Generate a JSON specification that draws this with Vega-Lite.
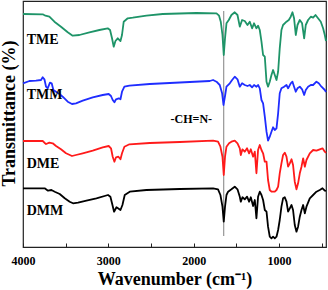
{
  "$schema": "https://vega.github.io/schema/vega-lite/v6.json",
  "width": 303,
  "height": 246,
  "autosize": {"type": "none"},
  "padding": {"left": 23, "top": 1, "right": 2, "bottom": 43},
  "config": {
    "view": {"stroke": "#222", "strokeWidth": 1.2},
    "font": "Liberation Serif"
  },
  "datasets": {
    "spectra": [
      {"s":"TME","wn":4000,"T":233},{"s":"TME","wn":3769,"T":232.7},{"s":"TME","wn":3737,"T":231.3},{"s":"TME","wn":3691,"T":230.3},{"s":"TME","wn":3632,"T":225.3},{"s":"TME","wn":3555,"T":220.3},{"s":"TME","wn":3476,"T":214.7},{"s":"TME","wn":3418,"T":211.3},{"s":"TME","wn":3339,"T":212},{"s":"TME","wn":3222,"T":214.7},{"s":"TME","wn":3105,"T":217},{"s":"TME","wn":3007,"T":218.7},{"s":"TME","wn":2980,"T":217},{"s":"TME","wn":2957,"T":208.7},{"s":"TME","wn":2937,"T":200.3},{"s":"TME","wn":2917,"T":206},{"s":"TME","wn":2890,"T":208.7},{"s":"TME","wn":2858,"T":206},{"s":"TME","wn":2840,"T":212},{"s":"TME","wn":2820,"T":225.3},{"s":"TME","wn":2773,"T":228.7},{"s":"TME","wn":2714,"T":229.3},{"s":"TME","wn":2554,"T":231.3},{"s":"TME","wn":2363,"T":233},{"s":"TME","wn":1968,"T":234},{"s":"TME","wn":1733,"T":233.7},{"s":"TME","wn":1703,"T":231.3},{"s":"TME","wn":1683,"T":225.3},{"s":"TME","wn":1663,"T":212},{"s":"TME","wn":1648,"T":192},{"s":"TME","wn":1633,"T":208.7},{"s":"TME","wn":1616,"T":223.7},{"s":"TME","wn":1589,"T":227},{"s":"TME","wn":1558,"T":232},{"s":"TME","wn":1519,"T":234.7},{"s":"TME","wn":1487,"T":232},{"s":"TME","wn":1460,"T":220.3},{"s":"TME","wn":1433,"T":227},{"s":"TME","wn":1402,"T":226},{"s":"TME","wn":1370,"T":222},{"s":"TME","wn":1343,"T":225.3},{"s":"TME","wn":1316,"T":218.7},{"s":"TME","wn":1293,"T":223.7},{"s":"TME","wn":1265,"T":218.7},{"s":"TME","wn":1246,"T":221.3},{"s":"TME","wn":1226,"T":217},{"s":"TME","wn":1206,"T":205.3},{"s":"TME","wn":1187,"T":192},{"s":"TME","wn":1167,"T":190.3},{"s":"TME","wn":1147,"T":165.3},{"s":"TME","wn":1129,"T":160.3},{"s":"TME","wn":1109,"T":165.3},{"s":"TME","wn":1089,"T":172},{"s":"TME","wn":1070,"T":177},{"s":"TME","wn":1050,"T":172},{"s":"TME","wn":1030,"T":167},{"s":"TME","wn":1011,"T":175.3},{"s":"TME","wn":992,"T":198.7},{"s":"TME","wn":972,"T":217},{"s":"TME","wn":953,"T":222},{"s":"TME","wn":913,"T":225.3},{"s":"TME","wn":886,"T":227},{"s":"TME","wn":863,"T":230.3},{"s":"TME","wn":843,"T":234.7},{"s":"TME","wn":824,"T":228.7},{"s":"TME","wn":804,"T":212},{"s":"TME","wn":784,"T":222},{"s":"TME","wn":757,"T":227},{"s":"TME","wn":730,"T":223.7},{"s":"TME","wn":706,"T":208.7},{"s":"TME","wn":687,"T":222},{"s":"TME","wn":660,"T":227},{"s":"TME","wn":628,"T":230.3},{"s":"TME","wn":601,"T":229.3},{"s":"TME","wn":573,"T":232},{"s":"TME","wn":543,"T":228.7},{"s":"TME","wn":511,"T":225.3},{"s":"TME","wn":484,"T":218.7},{"s":"TME","wn":464,"T":212},{"s":"TME","wn":450,"T":206},

      {"s":"TMM","wn":4000,"T":163.7},{"s":"TMM","wn":3925,"T":166},{"s":"TMM","wn":3848,"T":166.3},{"s":"TMM","wn":3789,"T":167},{"s":"TMM","wn":3769,"T":169.7},{"s":"TMM","wn":3749,"T":167.7},{"s":"TMM","wn":3730,"T":160.3},{"s":"TMM","wn":3711,"T":158.7},{"s":"TMM","wn":3684,"T":164.3},{"s":"TMM","wn":3664,"T":163.7},{"s":"TMM","wn":3644,"T":157},{"s":"TMM","wn":3613,"T":155.3},{"s":"TMM","wn":3573,"T":153},{"s":"TMM","wn":3535,"T":150.3},{"s":"TMM","wn":3476,"T":145.3},{"s":"TMM","wn":3426,"T":143},{"s":"TMM","wn":3379,"T":143.7},{"s":"TMM","wn":3300,"T":146.3},{"s":"TMM","wn":3183,"T":149.7},{"s":"TMM","wn":3066,"T":152},{"s":"TMM","wn":2996,"T":153},{"s":"TMM","wn":2969,"T":151},{"s":"TMM","wn":2949,"T":147},{"s":"TMM","wn":2929,"T":144.7},{"s":"TMM","wn":2910,"T":147.7},{"s":"TMM","wn":2878,"T":148.7},{"s":"TMM","wn":2858,"T":147.7},{"s":"TMM","wn":2840,"T":155.3},{"s":"TMM","wn":2812,"T":160.3},{"s":"TMM","wn":2753,"T":161.3},{"s":"TMM","wn":2515,"T":163},{"s":"TMM","wn":2163,"T":164.5},{"s":"TMM","wn":1812,"T":166},{"s":"TMM","wn":1773,"T":167},{"s":"TMM","wn":1733,"T":165.3},{"s":"TMM","wn":1695,"T":162},{"s":"TMM","wn":1667,"T":153.7},{"s":"TMM","wn":1651,"T":142},{"s":"TMM","wn":1633,"T":151},{"s":"TMM","wn":1616,"T":160.3},{"s":"TMM","wn":1577,"T":163.7},{"s":"TMM","wn":1550,"T":167},{"s":"TMM","wn":1519,"T":170.3},{"s":"TMM","wn":1487,"T":167.7},{"s":"TMM","wn":1460,"T":160.3},{"s":"TMM","wn":1433,"T":163.7},{"s":"TMM","wn":1402,"T":162},{"s":"TMM","wn":1370,"T":161},{"s":"TMM","wn":1343,"T":162},{"s":"TMM","wn":1316,"T":159.7},{"s":"TMM","wn":1293,"T":162},{"s":"TMM","wn":1265,"T":160.3},{"s":"TMM","wn":1246,"T":162},{"s":"TMM","wn":1226,"T":158.7},{"s":"TMM","wn":1206,"T":147},{"s":"TMM","wn":1187,"T":143.7},{"s":"TMM","wn":1167,"T":130.3},{"s":"TMM","wn":1147,"T":115.3},{"s":"TMM","wn":1129,"T":106.3},{"s":"TMM","wn":1109,"T":110.3},{"s":"TMM","wn":1089,"T":115.3},{"s":"TMM","wn":1070,"T":119.7},{"s":"TMM","wn":1050,"T":117},{"s":"TMM","wn":1030,"T":118.7},{"s":"TMM","wn":1011,"T":133.7},{"s":"TMM","wn":992,"T":153.7},{"s":"TMM","wn":972,"T":158.7},{"s":"TMM","wn":941,"T":160.3},{"s":"TMM","wn":913,"T":162},{"s":"TMM","wn":894,"T":158.7},{"s":"TMM","wn":863,"T":163.7},{"s":"TMM","wn":843,"T":165.3},{"s":"TMM","wn":824,"T":160.3},{"s":"TMM","wn":804,"T":155.3},{"s":"TMM","wn":784,"T":158.7},{"s":"TMM","wn":757,"T":160.3},{"s":"TMM","wn":730,"T":157.7},{"s":"TMM","wn":706,"T":152},{"s":"TMM","wn":687,"T":157},{"s":"TMM","wn":660,"T":160.3},{"s":"TMM","wn":628,"T":162},{"s":"TMM","wn":601,"T":162},{"s":"TMM","wn":562,"T":165.3},{"s":"TMM","wn":535,"T":163.7},{"s":"TMM","wn":503,"T":160.3},{"s":"TMM","wn":464,"T":157},{"s":"TMM","wn":450,"T":155},

      {"s":"DME","wn":4000,"T":106},{"s":"DME","wn":3848,"T":106},{"s":"DME","wn":3769,"T":106},{"s":"DME","wn":3749,"T":104.3},{"s":"DME","wn":3730,"T":103},{"s":"DME","wn":3691,"T":104.3},{"s":"DME","wn":3652,"T":103.7},{"s":"DME","wn":3613,"T":101},{"s":"DME","wn":3555,"T":97.7},{"s":"DME","wn":3496,"T":93.7},{"s":"DME","wn":3426,"T":91},{"s":"DME","wn":3379,"T":92},{"s":"DME","wn":3300,"T":93.7},{"s":"DME","wn":3183,"T":96.3},{"s":"DME","wn":3066,"T":99.7},{"s":"DME","wn":2996,"T":101},{"s":"DME","wn":2969,"T":98.7},{"s":"DME","wn":2949,"T":90.3},{"s":"DME","wn":2929,"T":85.3},{"s":"DME","wn":2910,"T":89.7},{"s":"DME","wn":2882,"T":90.3},{"s":"DME","wn":2858,"T":87.7},{"s":"DME","wn":2840,"T":93.7},{"s":"DME","wn":2812,"T":100.3},{"s":"DME","wn":2753,"T":102.7},{"s":"DME","wn":2515,"T":104},{"s":"DME","wn":2163,"T":105},{"s":"DME","wn":1773,"T":106.3},{"s":"DME","wn":1715,"T":105.3},{"s":"DME","wn":1687,"T":100.3},{"s":"DME","wn":1663,"T":90.3},{"s":"DME","wn":1648,"T":72},{"s":"DME","wn":1633,"T":90.3},{"s":"DME","wn":1616,"T":100.3},{"s":"DME","wn":1586,"T":103.7},{"s":"DME","wn":1558,"T":105.3},{"s":"DME","wn":1519,"T":106.3},{"s":"DME","wn":1487,"T":103.7},{"s":"DME","wn":1460,"T":98.7},{"s":"DME","wn":1448,"T":92},{"s":"DME","wn":1429,"T":97.7},{"s":"DME","wn":1402,"T":95.3},{"s":"DME","wn":1375,"T":98.7},{"s":"DME","wn":1351,"T":93.7},{"s":"DME","wn":1331,"T":97.7},{"s":"DME","wn":1304,"T":90.3},{"s":"DME","wn":1284,"T":95.3},{"s":"DME","wn":1265,"T":73.7},{"s":"DME","wn":1246,"T":97},{"s":"DME","wn":1226,"T":102},{"s":"DME","wn":1206,"T":97},{"s":"DME","wn":1187,"T":93.7},{"s":"DME","wn":1167,"T":85.3},{"s":"DME","wn":1147,"T":85.3},{"s":"DME","wn":1129,"T":67},{"s":"DME","wn":1109,"T":57},{"s":"DME","wn":1089,"T":55.3},{"s":"DME","wn":1050,"T":55.3},{"s":"DME","wn":1030,"T":57},{"s":"DME","wn":1011,"T":60.3},{"s":"DME","wn":992,"T":73.7},{"s":"DME","wn":972,"T":83.7},{"s":"DME","wn":953,"T":92},{"s":"DME","wn":933,"T":94.3},{"s":"DME","wn":913,"T":90.3},{"s":"DME","wn":894,"T":80.3},{"s":"DME","wn":874,"T":83.7},{"s":"DME","wn":854,"T":87.7},{"s":"DME","wn":836,"T":82},{"s":"DME","wn":816,"T":65.3},{"s":"DME","wn":796,"T":57.7},{"s":"DME","wn":777,"T":63.7},{"s":"DME","wn":757,"T":73.7},{"s":"DME","wn":737,"T":80.3},{"s":"DME","wn":718,"T":88.7},{"s":"DME","wn":698,"T":80.3},{"s":"DME","wn":679,"T":87},{"s":"DME","wn":640,"T":93.7},{"s":"DME","wn":601,"T":97},{"s":"DME","wn":562,"T":96.3},{"s":"DME","wn":523,"T":97.7},{"s":"DME","wn":491,"T":98.7},{"s":"DME","wn":464,"T":95.3},{"s":"DME","wn":450,"T":94},

      {"s":"DMM","wn":4000,"T":58.7},{"s":"DMM","wn":3746,"T":58.7},{"s":"DMM","wn":3707,"T":56.3},{"s":"DMM","wn":3667,"T":57},{"s":"DMM","wn":3628,"T":55.3},{"s":"DMM","wn":3570,"T":53},{"s":"DMM","wn":3511,"T":48.7},{"s":"DMM","wn":3453,"T":45.3},{"s":"DMM","wn":3414,"T":43.7},{"s":"DMM","wn":3355,"T":44.3},{"s":"DMM","wn":3257,"T":46.3},{"s":"DMM","wn":3140,"T":48.7},{"s":"DMM","wn":3004,"T":52},{"s":"DMM","wn":2976,"T":50.3},{"s":"DMM","wn":2952,"T":42},{"s":"DMM","wn":2933,"T":35.3},{"s":"DMM","wn":2905,"T":39.7},{"s":"DMM","wn":2887,"T":38.7},{"s":"DMM","wn":2858,"T":37},{"s":"DMM","wn":2835,"T":42},{"s":"DMM","wn":2808,"T":52},{"s":"DMM","wn":2749,"T":55.3},{"s":"DMM","wn":2554,"T":57},{"s":"DMM","wn":2163,"T":58},{"s":"DMM","wn":1773,"T":58.7},{"s":"DMM","wn":1715,"T":57.7},{"s":"DMM","wn":1687,"T":52},{"s":"DMM","wn":1663,"T":40.3},{"s":"DMM","wn":1648,"T":25.3},{"s":"DMM","wn":1633,"T":40.3},{"s":"DMM","wn":1616,"T":52},{"s":"DMM","wn":1597,"T":55.3},{"s":"DMM","wn":1558,"T":57.7},{"s":"DMM","wn":1519,"T":60.3},{"s":"DMM","wn":1487,"T":57.7},{"s":"DMM","wn":1460,"T":50.3},{"s":"DMM","wn":1448,"T":45.3},{"s":"DMM","wn":1429,"T":49.7},{"s":"DMM","wn":1402,"T":47.7},{"s":"DMM","wn":1375,"T":50.3},{"s":"DMM","wn":1351,"T":45.3},{"s":"DMM","wn":1331,"T":49.7},{"s":"DMM","wn":1304,"T":41},{"s":"DMM","wn":1284,"T":47},{"s":"DMM","wn":1265,"T":28.7},{"s":"DMM","wn":1246,"T":50.3},{"s":"DMM","wn":1226,"T":55.3},{"s":"DMM","wn":1206,"T":52},{"s":"DMM","wn":1187,"T":47},{"s":"DMM","wn":1167,"T":37},{"s":"DMM","wn":1147,"T":35.3},{"s":"DMM","wn":1129,"T":20.3},{"s":"DMM","wn":1109,"T":10.3},{"s":"DMM","wn":1089,"T":8.7},{"s":"DMM","wn":1070,"T":10.3},{"s":"DMM","wn":1050,"T":8.7},{"s":"DMM","wn":1030,"T":10.3},{"s":"DMM","wn":1011,"T":17},{"s":"DMM","wn":992,"T":27},{"s":"DMM","wn":972,"T":40.3},{"s":"DMM","wn":953,"T":48.7},{"s":"DMM","wn":933,"T":49.7},{"s":"DMM","wn":913,"T":45.3},{"s":"DMM","wn":894,"T":35.3},{"s":"DMM","wn":874,"T":38.7},{"s":"DMM","wn":854,"T":42},{"s":"DMM","wn":836,"T":37},{"s":"DMM","wn":816,"T":22},{"s":"DMM","wn":796,"T":15.3},{"s":"DMM","wn":777,"T":20.3},{"s":"DMM","wn":757,"T":30.3},{"s":"DMM","wn":737,"T":37},{"s":"DMM","wn":718,"T":42},{"s":"DMM","wn":698,"T":33.7},{"s":"DMM","wn":679,"T":40.3},{"s":"DMM","wn":640,"T":48.7},{"s":"DMM","wn":601,"T":52},{"s":"DMM","wn":562,"T":55.3},{"s":"DMM","wn":523,"T":57},{"s":"DMM","wn":491,"T":58.7},{"s":"DMM","wn":464,"T":56.3},{"s":"DMM","wn":450,"T":56}
    ],
    "labels": [
      {"name":"TME","wn":3957,"T":207},
      {"name":"TMM","wn":3957,"T":152},
      {"name":"DME","wn":3957,"T":83},
      {"name":"DMM","wn":3957,"T":36}
    ],
    "marker": [{"wn":1648,"T1":11,"T2":236,"name":"-CH=N-","tx":1785,"ty":128}]
  },
  "layer": [
    {
      "data": {"name": "marker"},
      "mark": {"type": "rule", "color": "#808080", "strokeWidth": 1},
      "encoding": {
        "x": {"field": "wn", "type": "quantitative", "scale": {"domain": [450, 4000], "reverse": true, "nice": false, "zero": false}},
        "y": {"field": "T1", "type": "quantitative", "scale": {"domain": [0, 246], "nice": false, "zero": false}},
        "y2": {"field": "T2"}
      }
    },
    {
      "data": {"name": "spectra"},
      "mark": {"type": "line", "strokeWidth": 1.8, "strokeJoin": "round"},
      "encoding": {
        "x": {
          "field": "wn", "type": "quantitative",
          "scale": {"domain": [450, 4000], "reverse": true, "nice": false, "zero": false},
          "axis": {
            "values": [4000, 3500, 3000, 2500, 2000, 1500, 1000, 500],
            "format": "d",
            "labelExpr": "datum.value % 1000 === 0 ? datum.label : ''",
            "labelFlush": false, "labelOverlap": false,
            "tickSize": -4, "tickColor": "#222", "tickWidth": 1,
            "labelPadding": 12, "labelFont": "Liberation Serif", "labelFontWeight": "bold", "labelFontSize": 12, "labelColor": "#000",
            "domainColor": "#222", "grid": false,
            "title": "Wavenumber (cm⁻¹)", "titleFont": "Liberation Serif", "titleFontWeight": "bold", "titleFontSize": 18,
            "titleColor": "#000", "titleBaseline": "alphabetic", "titleY": 37
          }
        },
        "y": {
          "field": "T", "type": "quantitative",
          "scale": {"domain": [0, 246], "nice": false, "zero": false},
          "axis": {
            "ticks": false, "labels": false, "domain": false, "grid": false,
            "title": "Transmittance (%)", "titleFont": "Liberation Serif", "titleFontWeight": "bold", "titleFontSize": 18,
            "titleColor": "#000", "titleX": -5, "titleY": 112, "titleBaseline": "bottom"
          }
        },
        "color": {
          "field": "s", "type": "nominal",
          "scale": {"domain": ["TME", "TMM", "DME", "DMM"], "range": ["#1e9468", "#1f2dff", "#ff1a1a", "#000000"]},
          "legend": null
        }
      }
    },
    {
      "data": {"name": "labels"},
      "mark": {"type": "text", "align": "left", "baseline": "middle", "font": "Liberation Serif", "fontWeight": "bold", "fontSize": 14, "color": "#000"},
      "encoding": {
        "x": {"field": "wn", "type": "quantitative"},
        "y": {"field": "T", "type": "quantitative"},
        "text": {"field": "name"}
      }
    },
    {
      "data": {"name": "marker"},
      "mark": {"type": "text", "align": "right", "baseline": "middle", "font": "Liberation Serif", "fontWeight": "bold", "fontSize": 12, "color": "#000"},
      "encoding": {
        "x": {"field": "tx", "type": "quantitative"},
        "y": {"field": "ty", "type": "quantitative"},
        "text": {"field": "name"}
      }
    }
  ]
}
